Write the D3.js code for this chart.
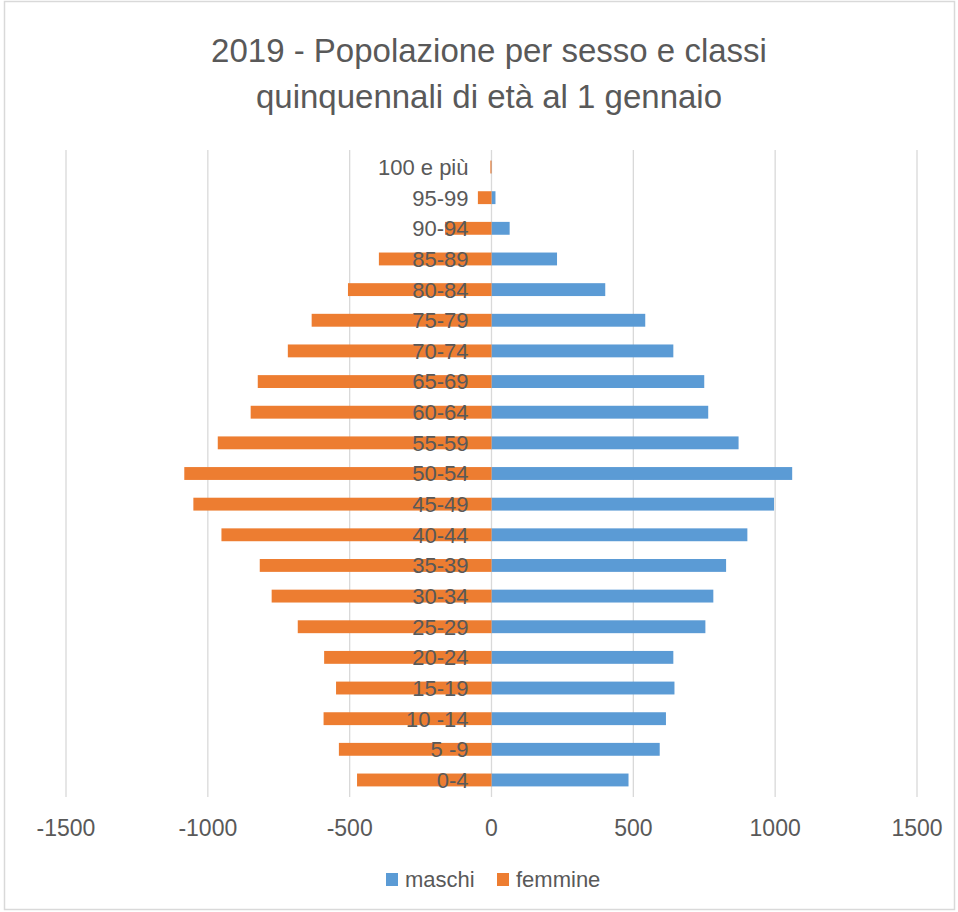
<!DOCTYPE html>
<html>
<head>
<meta charset="utf-8">
<script src="https://cdn.jsdelivr.net/npm/d3@7"></script>
<style>
  body { margin: 0; background: #fff; }
  text { font-family: "Liberation Sans Narrow", "Liberation Sans", Arial, sans-serif; fill: #595959; }
</style>
</head>
<body>
<div class="chart"></div>
<script>
// classi di età, dall'alto verso il basso
const classi = ['100 e più', '95-99', '90-94', '85-89', '80-84', '75-79', '70-74', '65-69',
  '60-64', '55-59', '50-54', '45-49', '40-44', '35-39', '30-34', '25-29', '20-24',
  '15-19', '10 -14', '5 -9', '0-4'];
const maschi = [1, 14, 64, 231, 401, 542, 641, 750, 764, 871, 1060, 996, 902, 827, 782, 754,
  641, 645, 615, 593, 483];
const femmine = [4, 48, 164, 397, 506, 634, 718, 824, 849, 965, 1083, 1051, 952, 817, 775, 683,
  590, 548, 592, 538, 474];
const ticks = [-1500, -1000, -500, 0, 500, 1000, 1500];
const titolo = ['2019 - Popolazione  per sesso e classi', 'quinquennali di età al 1 gennaio'];
const serie = [{name: 'maschi', color: '#5B9BD5'}, {name: 'femmine', color: '#ED7D31'}];

const W = 958, H = 912;
let svg = d3.select('.chart').append('svg').attr('width', W).attr('height', H);

// cornice del grafico
svg.append('rect').attr('x', 4.5).attr('y', 1.5).attr('width', 950).attr('height', 908)
  .attr('fill', 'none').attr('stroke', '#d9d9d9').attr('stroke-width', 1.5);

let x = d3.scaleLinear().domain([-1500, 1500]).range([66, 917]);
let y = d3.scaleBand().domain(classi).range([151.7, 795.3]).paddingInner(0.58).paddingOuter(0.29);

// titolo
svg.selectAll('.title').data(titolo).enter().append('text')
  .attr('x', 489).attr('y', (d, i) => 62 + i * 46)
  .attr('text-anchor', 'middle').style('font-size', '33px')
  .text(d => d);

// griglia verticale
svg.append('g').selectAll('line').data(ticks).enter().append('line')
  .attr('x1', d => x(d)).attr('x2', d => x(d))
  .attr('y1', 150).attr('y2', 797)
  .attr('stroke', '#d9d9d9').attr('stroke-width', 1.3);

// barre
let bars = svg.append('g');
bars.selectAll('.m').data(maschi).enter().append('rect')
  .attr('x', x(0)).attr('y', (d, i) => y(classi[i]))
  .attr('width', d => x(d) - x(0)).attr('height', y.bandwidth())
  .attr('fill', serie[0].color);
bars.selectAll('.f').data(femmine).enter().append('rect')
  .attr('x', d => x(-d)).attr('y', (d, i) => y(classi[i]))
  .attr('width', d => x(0) - x(-d)).attr('height', y.bandwidth())
  .attr('fill', serie[1].color);

// etichette delle classi
svg.append('g').selectAll('text').data(classi).enter().append('text')
  .attr('x', x(0) - 23).attr('y', d => y(d) + y.bandwidth() / 2)
  .attr('dy', '0.36em').attr('text-anchor', 'end').style('font-size', '22px')
  .text(d => d);

// etichette asse x
svg.append('g').selectAll('text').data(ticks).enter().append('text')
  .attr('x', d => x(d)).attr('y', 836)
  .attr('text-anchor', 'middle').style('font-size', '23px')
  .text(d => d);

// legenda
let leg = svg.append('g').selectAll('g').data(serie).enter().append('g')
  .attr('transform', (d, i) => 'translate(386,873)'.replace('386', 386 + i * 111));
leg.append('rect').attr('width', 12).attr('height', 13).attr('fill', d => d.color);
leg.append('text').attr('x', 19).attr('y', 14).style('font-size', '22px').text(d => d.name);
</script>
</body>
</html>
